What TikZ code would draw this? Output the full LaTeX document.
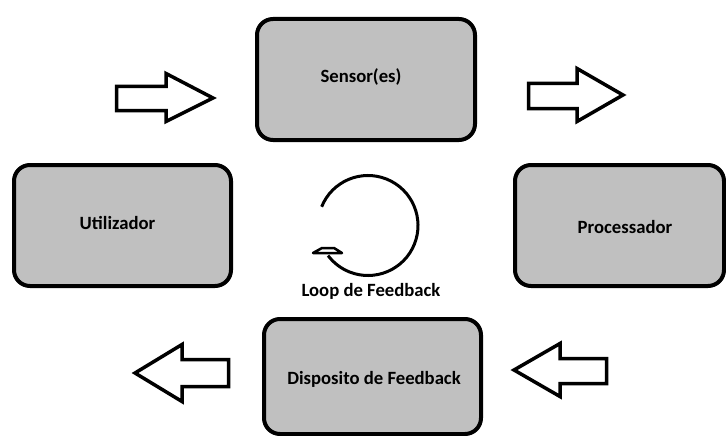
\documentclass[tikz,border=0pt]{standalone}
\usepackage{fontspec}
\setmainfont{Carlito}
\definecolor{boxgray}{RGB}{192,192,192}
\begin{document}
\begin{tikzpicture}[x=1pt,y=-1pt,
  blockbox/.style={draw=black, line width=4pt, fill=boxgray, rounded corners=16pt,
    font=\fontsize{18.7}{22}\selectfont\bfseries, text=black, inner sep=0pt},
  blockarrow/.style={draw=black, line width=3.5pt, fill=white, line join=miter},
  looplabel/.style={font=\fontsize{18.7}{22}\selectfont\bfseries, text=black, inner sep=0pt}]
\useasboundingbox (0,0) rectangle (726,436);
\fill[white] (0,0) rectangle (726,436);

% boxes
\node[blockbox, minimum width=218pt, minimum height=121pt] (sensor) at (366,79.5) {};
\node[blockbox, minimum width=217pt, minimum height=121pt] (user) at (122.5,225.5) {};
\node[blockbox, minimum width=209pt, minimum height=121pt] (proc) at (619.5,225.5) {};
\node[blockbox, minimum width=217pt, minimum height=115pt] (disp) at (372.5,376.5) {};

% labels
\node[looplabel] (tsensor) at (361,77) {Sensor(es)};
\node[looplabel] (tuser) at (117.5,222.5) {Utilizador};
\node[looplabel] (tproc) at (625,227) {Processador};
\node[looplabel] (tdisp) at (374,379) {Disposito de Feedback};
\node[looplabel] (tloop) at (371,291) {Loop de Feedback};

% block arrows
\draw[blockarrow] (116.5,86.5) -- (166,86.5) -- (166,73.5) -- (213,98) -- (166,121.5) -- (166,110.5) -- (116.5,110.5) -- cycle;
\draw[blockarrow] (528.5,83.5) -- (577,83.5) -- (577,68.5) -- (623,95) -- (577,121.5) -- (577,108.5) -- (528.5,108.5) -- cycle;
\draw[blockarrow] (228.5,359.5) -- (182,359.5) -- (182,344.5) -- (135,373) -- (182,401.5) -- (182,386.5) -- (228.5,386.5) -- cycle;
\draw[blockarrow] (606.5,358.5) -- (560,358.5) -- (560,343.5) -- (514,370) -- (560,396.5) -- (560,383.5) -- (606.5,383.5) -- cycle;

% feedback loop
\coordinate (loopc) at (368,225.5);
\draw[line width=3pt] ([shift={(-158:50)}]loopc) arc[start angle=-158, end angle=143, radius=50];
\draw[line width=2.5pt, fill=white, line join=round] (313,253) -- (322,248) -- (334,248) -- (342,253) -- cycle;
\end{tikzpicture}
\end{document}
